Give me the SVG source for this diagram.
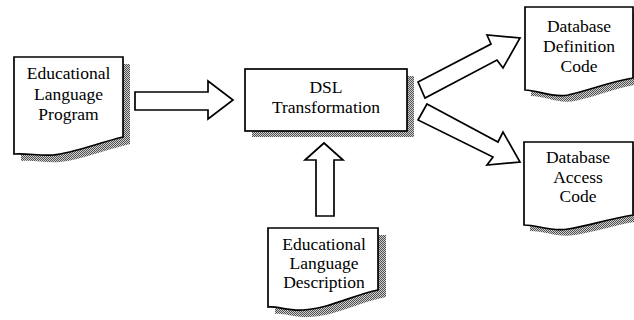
<svg xmlns="http://www.w3.org/2000/svg" width="634" height="320" viewBox="0 0 634 320">
  <style>
    .outline { fill: #ffffff; stroke: #000000; stroke-width: 1.7; stroke-linejoin: miter; }
    .shadow { fill: url(#dither); stroke: none; }
    .label { font-family: "Liberation Serif", "Times New Roman", "DejaVu Serif", serif; font-size: 17.5px; fill: #000000; text-anchor: middle; }
  </style>
  <defs>
    <!-- halftone grey used for drop shadows -->
    <pattern id="dither" width="2" height="2" patternUnits="userSpaceOnUse">
      <rect width="2" height="2" fill="#d0d0d0"/>
      <rect width="1" height="1" fill="#505050"/>
      <rect x="1" y="1" width="1" height="1" fill="#505050"/>
    </pattern>
  </defs>

  <rect width="634" height="320" fill="#ffffff"/>

  <!-- connectors: hollow block arrows -->
  <g id="connectors">
    <polygon class="outline" points="135,92 208,92 208,81 233,100 208,119 208,110 135,110"/>
    <polygon class="outline" points="418,82 491,44 487,35 520,38 503,68 497,60 425,98"/>
    <polygon class="outline" points="427,104 498,142 503,132 520,162 487,165 493,157 418,120"/>
    <polygon class="outline" points="316,216 316,160 305,160 324,143 343,160 334,160 334,216"/>
  </g>

  <!-- input document -->
  <g id="program-doc">
    <path class="shadow" d="M21,64 H130 V144 C105,150 80,160 60,162 C45,163 35,160 21,161 Z"/>
    <path class="outline" d="M14,57 H123 V137 C98,143 73,153 53,155 C38,156 28,153 14,154 Z"/>
    <text class="label" x="68.5" y="79">Educational</text>
    <text class="label" x="68.5" y="99.5">Language</text>
    <text class="label" x="68.5" y="120">Program</text>
  </g>

  <!-- transformation process -->
  <g id="dsl-transformation">
    <rect class="shadow" x="252" y="76" width="162" height="61"/>
    <rect class="outline" x="245" y="69" width="162" height="62"/>
    <text class="label" x="326" y="93">DSL</text>
    <text class="label" x="326" y="113">Transformation</text>
  </g>

  <!-- language description document -->
  <g id="description-doc">
    <path class="shadow" d="M275,235 H386 V297 C360,302 335,316 310,317 C295,318 285,313 275,314 Z"/>
    <path class="outline" d="M268,228 H378 V290 C353,295 328,309 303,310 C288,311 278,306 268,307 Z"/>
    <text class="label" x="324" y="250">Educational</text>
    <text class="label" x="324" y="269">Language</text>
    <text class="label" x="324" y="288">Description</text>
  </g>

  <!-- generated database definition code -->
  <g id="definition-doc">
    <path class="shadow" d="M531,13 H640 V84 C615,88 595,97 575,101 C558,104 545,96 531,96 Z"/>
    <path class="outline" d="M525,7 H633 V78 C608,82 588,91 568,95 C551,98 538,90 525,90 Z"/>
    <text class="label" x="579" y="32">Database</text>
    <text class="label" x="579" y="52">Definition</text>
    <text class="label" x="579" y="72">Code</text>
  </g>

  <!-- generated database access code -->
  <g id="access-doc">
    <path class="shadow" d="M530,148 H640 V221 C615,225 595,232 575,235 C558,238 545,231 530,231 Z"/>
    <path class="outline" d="M524,142 H633 V215 C608,219 588,226 568,229 C551,232 538,225 524,225 Z"/>
    <text class="label" x="578" y="163">Database</text>
    <text class="label" x="578" y="183">Access</text>
    <text class="label" x="578" y="202">Code</text>
  </g>
</svg>
